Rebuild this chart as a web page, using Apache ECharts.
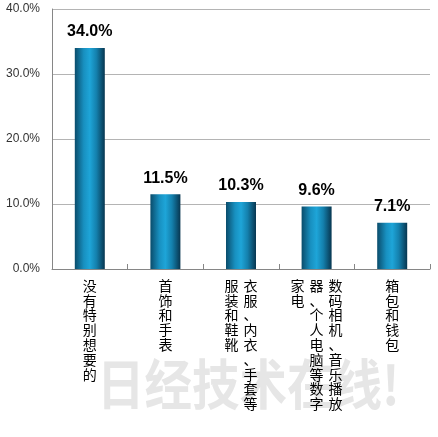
<!DOCTYPE html>
<html>
<head>
<meta charset="utf-8">
<script src="https://cdn.jsdelivr.net/npm/echarts@6/dist/echarts.min.js"></script>
<style>
html,body{margin:0;padding:0;background:#fff;}
#chart{width:438px;height:437px;}
</style>
</head>
<body>
<div id="chart"></div>
<script>
var categories = ['没有特别想要的', '首饰和手表', '衣服、内衣、手套等服装和鞋靴', '数码相机、音乐播放器、个人电脑等数字家电', '箱包和钱包'];
var values = [34.0, 11.5, 10.3, 9.6, 7.1];
var yTicks = [0, 10, 20, 30, 40];
var watermark = '日经技术在线!';

var COL_LEN = 9;
function verticalLabel(s) {
  var chars = Array.from(s);
  var cols = [];
  for (var i = 0; i < chars.length; i += COL_LEN) cols.push(chars.slice(i, i + COL_LEN));
  var rows = 0;
  cols.forEach(function (c) { rows = Math.max(rows, c.length); });
  var lines = [];
  for (var r = 0; r < rows; r++) {
    var line = '';
    for (var c = cols.length - 1; c >= 0; c--) {
      var ch = cols[c][r] || '\u3000';
      line += '{c|' + ch + '}';
    }
    lines.push(line);
  }
  return lines.join('\n');
}

var chart = echarts.init(document.getElementById('chart'), null, {renderer: 'canvas'});
chart.setOption({
  animation: false,
  backgroundColor: '#ffffff',
  grid: {left: 52, right: 8, top: 9, bottom: 168, containLabel: false},
  graphic: [{
    type: 'text', x: 97, y: 357, scaleX: 0.88, z: -10,
    style: {text: watermark, fill: '#e6e6e6', font: 'bold 54px "Noto Sans CJK SC"', verticalAlign: 'top', align: 'left'}
  }],
  xAxis: {
    type: 'category',
    data: categories,
    axisLine: {show: true, lineStyle: {color: '#868686', width: 1}},
    axisTick: {show: true, inside: true, length: 5, interval: 0, alignWithLabel: false, lineStyle: {color: '#868686'}},
    axisLabel: {
      interval: 0,
      margin: 9,
      verticalAlign: 'top',
      formatter: function (v) { return verticalLabel(v); },
      rich: {
        c: {width: 19, align: 'center', fontSize: 14, lineHeight: 14.8, fontFamily: '"Noto Sans CJK SC"', color: '#000'}
      }
    },
    splitLine: {show: false}
  },
  yAxis: {
    type: 'value',
    min: yTicks[0],
    max: yTicks[yTicks.length - 1],
    interval: yTicks[1] - yTicks[0],
    axisLine: {show: true, lineStyle: {color: '#868686', width: 1}},
    axisTick: {show: false},
    axisLabel: {
      margin: 12,
      fontSize: 12,
      fontFamily: '"Liberation Sans"',
      color: '#333',
      formatter: function (v) { return v.toFixed(1) + '%'; }
    },
    splitLine: {show: true, lineStyle: {color: '#b4b4b4', width: 1}}
  },
  series: [{
    type: 'bar',
    data: values,
    barWidth: 30,
    itemStyle: {
      color: new echarts.graphic.LinearGradient(0, 0, 1, 0, [
        {offset: 0, color: '#0a4c6b'},
        {offset: 0.3, color: '#1890c0'},
        {offset: 0.5, color: '#1ea5d8'},
        {offset: 0.72, color: '#1480ad'},
        {offset: 1, color: '#073650'}
      ])
    },
    label: {
      show: true,
      position: 'top',
      distance: 8,
      fontSize: 16,
      fontWeight: 'bold',
      fontFamily: '"Liberation Sans"',
      color: '#000',
      formatter: function (p) { return p.value.toFixed(1) + '%'; }
    }
  }]
});
</script>
</body>
</html>
